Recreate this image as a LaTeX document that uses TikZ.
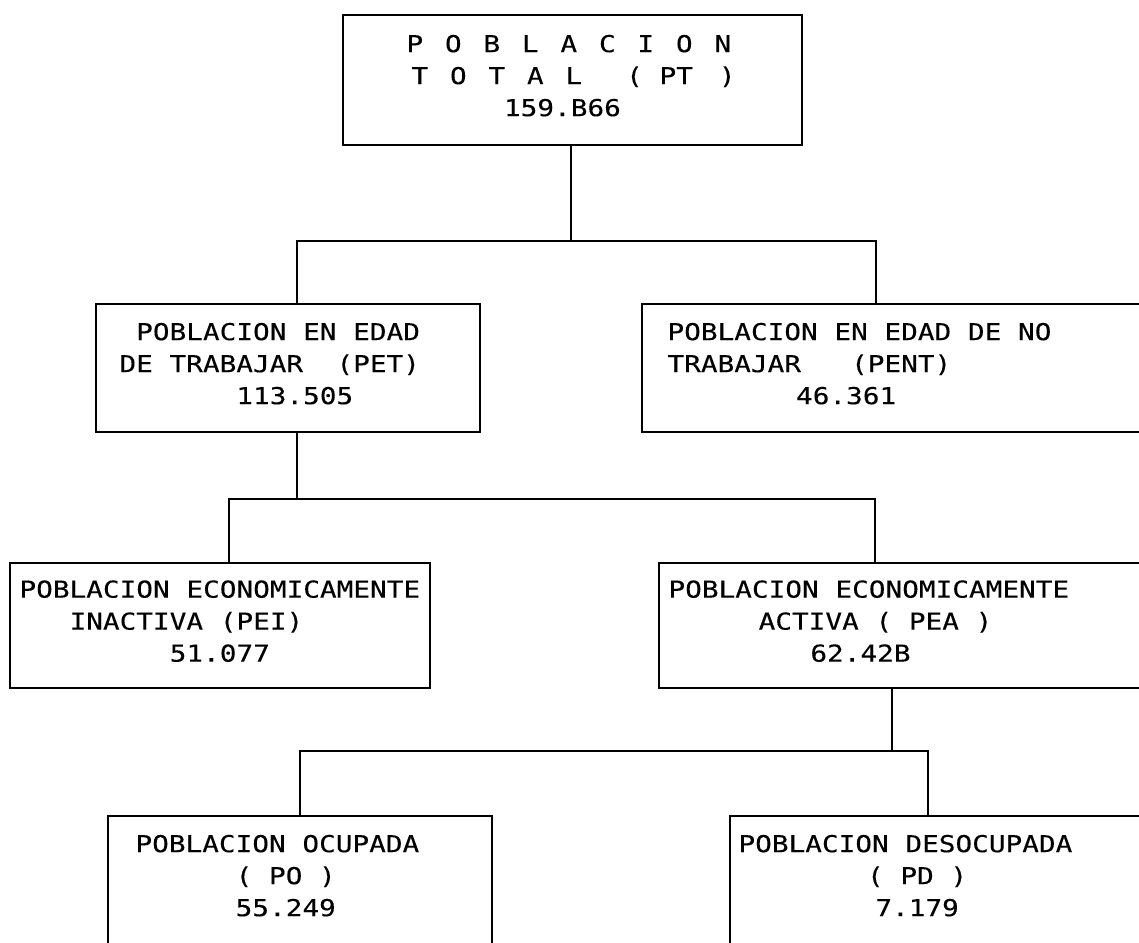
\documentclass[tikz,border=0pt]{standalone}
\usepackage{fontspec}
\newfontfamily\plotfont[FakeStretch=1.19,FakeBold=0.15]{DejaVu Sans Mono}
\newlength\cw
\setlength\cw{16.7pt}
\newcommand\sk[1]{\hspace*{#1\cw}}
\newcommand\spc{\hspace*{\cw}}
\newcommand\gp{\hspace*{\dimexpr38.5pt-\cw\relax}}
\newcommand\dstrut{\rule[-9pt]{0pt}{9pt}}
\newcommand\boxfont{\plotfont\fontsize{23.3}{32}\selectfont}
\begin{document}
\settowidth\cw{\boxfont M}
\begin{tikzpicture}[x=1pt,y=-1pt,
  box/.style={draw, line width=2.9pt, rectangle, anchor=north west, outer sep=0pt,
    inner ysep=0pt, align=left, font=\boxfont},
  conn/.style={line width=2.9pt, line cap=rect}]
\useasboundingbox (0,0) rectangle (1139,942);
\fill[white] (0,0) rectangle (1139,942);
\clip (0,0) rectangle (1139,942);

\node[box, minimum width=459pt, minimum height=130pt, inner xsep=40pt, text width=379pt] (PT) at (343,15)
  {\hspace*{23.5pt}P\gp O\gp B\gp L\gp A\gp C\gp I\gp O\gp N\\
   \hspace*{28.5pt}T\gp O\gp T\gp A\gp L\hspace*{44pt}(\spc PT\hspace*{26pt})\\
   \hspace*{121pt}159.B66\dstrut};

\node[box, minimum width=384pt, minimum height=128pt, inner xsep=23.5pt, text width=337pt] (PET) at (96,304)
  {\spc POBLACION\spc EN\spc EDAD\\
   DE\spc TRABAJAR\sk{2}(PET)\\
   \sk{7}113.505\dstrut};

\node[box, minimum width=520pt, minimum height=128pt, inner xsep=25.5pt, text width=469pt] (PENT) at (642,304)
  {POBLACION\spc EN\spc EDAD\spc DE\spc NO\\
   TRABAJAR\sk{3}(PENT)\\
   \sk{7.7}46.361\dstrut};

\node[box, minimum width=420pt, minimum height=125pt, inner xsep=7pt, text width=406pt] (PEI) at (10,563)
  {\hspace*{2.5pt}POBLACION\spc ECONOMICAMENTE\\
   \hspace*{2.5pt}\sk{3}INACTIVA\spc (PEI)\\
   \hspace*{2.5pt}\sk{9}51.077\dstrut};

\node[box, minimum width=500pt, minimum height=125pt, inner xsep=9.5pt, text width=481pt] (PEA) at (659,563)
  {POBLACION\spc ECONOMICAMENTE\\
   \sk{5.4}ACTIVA\spc (\spc PEA\spc )\\
   \sk{8.5}62.42B\dstrut};

\node[box, minimum width=384pt, minimum height=128pt, inner xsep=27.5pt, text width=329pt] (PO) at (108,816)
  {POBLACION\spc OCUPADA\\
   \sk{6}(\spc PO\spc )\\
   \sk{6}55.249\dstrut};

\node[box, minimum width=440pt, minimum height=128pt, inner xsep=8.5pt, text width=423pt] (PD) at (730,816)
  {POBLACION\spc DESOCUPADA\\
   \sk{7.7}(\spc PD\spc )\\
   \sk{8.2}7.179\dstrut};

% junction points
\coordinate (b1) at (571,241);
\coordinate (b1l) at (297,241);
\coordinate (b1r) at (876,241);
\coordinate (b2) at (297,499);
\coordinate (b2l) at (229,499);
\coordinate (b2r) at (875,499);
\coordinate (b3) at (892,751);
\coordinate (b3l) at (300,751);
\coordinate (b3r) at (928,751);

\draw[conn] (PT.south -| b1) -- (b1);
\draw[conn] (PET.north -| b1l) -- (b1l) -- (b1r) -- (PENT.north -| b1r);
\draw[conn] (PET.south -| b2) -- (b2);
\draw[conn] (PEI.north -| b2l) -- (b2l) -- (b2r) -- (PEA.north -| b2r);
\draw[conn] (PEA.south -| b3) -- (b3);
\draw[conn] (PO.north -| b3l) -- (b3l) -- (b3r) -- (PD.north -| b3r);
\end{tikzpicture}
\end{document}
